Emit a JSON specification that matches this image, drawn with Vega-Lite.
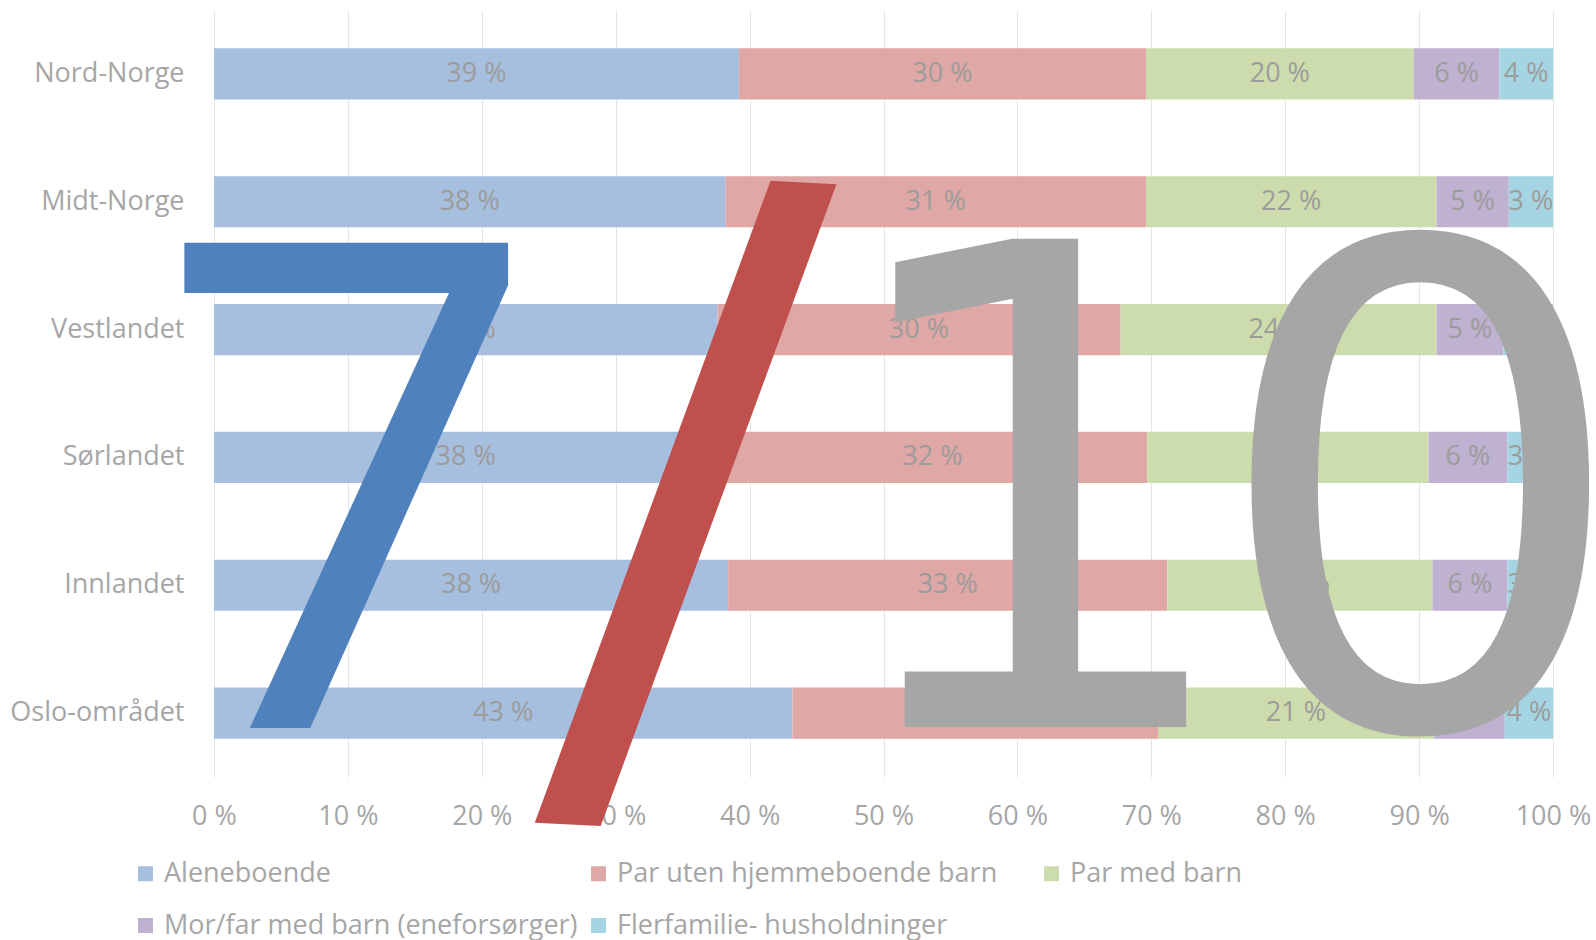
{
  "$schema": "https://vega.github.io/schema/vega-lite/v6.json",
  "width": 1339,
  "height": 767,
  "autosize": {"type": "none"},
  "padding": {"left": 214, "top": 10, "right": 43, "bottom": 163},
  "background": "white",
  "config": {"view": {"stroke": null}, "font": "Open Sans"},
  "layer": [
    {
      "data": {"values": [
        {"region": "Nord-Norge", "type": "Aleneboende", "i": 1, "share": 39.2},
        {"region": "Nord-Norge", "type": "Par uten hjemmeboende barn", "i": 2, "share": 30.4},
        {"region": "Nord-Norge", "type": "Par med barn", "i": 3, "share": 20.0},
        {"region": "Nord-Norge", "type": "Mor/far med barn (eneforsørger)", "i": 4, "share": 6.4},
        {"region": "Nord-Norge", "type": "Flerfamilie- husholdninger", "i": 5, "share": 4.0},
        {"region": "Midt-Norge", "type": "Aleneboende", "i": 1, "share": 38.2},
        {"region": "Midt-Norge", "type": "Par uten hjemmeboende barn", "i": 2, "share": 31.4},
        {"region": "Midt-Norge", "type": "Par med barn", "i": 3, "share": 21.7},
        {"region": "Midt-Norge", "type": "Mor/far med barn (eneforsørger)", "i": 4, "share": 5.4},
        {"region": "Midt-Norge", "type": "Flerfamilie- husholdninger", "i": 5, "share": 3.3},
        {"region": "Vestlandet", "type": "Aleneboende", "i": 1, "share": 37.6},
        {"region": "Vestlandet", "type": "Par uten hjemmeboende barn", "i": 2, "share": 30.1},
        {"region": "Vestlandet", "type": "Par med barn", "i": 3, "share": 23.6},
        {"region": "Vestlandet", "type": "Mor/far med barn (eneforsørger)", "i": 4, "share": 5.0},
        {"region": "Vestlandet", "type": "Flerfamilie- husholdninger", "i": 5, "share": 3.7},
        {"region": "Sørlandet", "type": "Aleneboende", "i": 1, "share": 37.6},
        {"region": "Sørlandet", "type": "Par uten hjemmeboende barn", "i": 2, "share": 32.1},
        {"region": "Sørlandet", "type": "Par med barn", "i": 3, "share": 21.0},
        {"region": "Sørlandet", "type": "Mor/far med barn (eneforsørger)", "i": 4, "share": 5.9},
        {"region": "Sørlandet", "type": "Flerfamilie- husholdninger", "i": 5, "share": 3.4},
        {"region": "Innlandet", "type": "Aleneboende", "i": 1, "share": 38.4},
        {"region": "Innlandet", "type": "Par uten hjemmeboende barn", "i": 2, "share": 32.8},
        {"region": "Innlandet", "type": "Par med barn", "i": 3, "share": 19.8},
        {"region": "Innlandet", "type": "Mor/far med barn (eneforsørger)", "i": 4, "share": 5.6},
        {"region": "Innlandet", "type": "Flerfamilie- husholdninger", "i": 5, "share": 3.4},
        {"region": "Oslo-området", "type": "Aleneboende", "i": 1, "share": 43.2},
        {"region": "Oslo-området", "type": "Par uten hjemmeboende barn", "i": 2, "share": 27.3},
        {"region": "Oslo-området", "type": "Par med barn", "i": 3, "share": 20.6},
        {"region": "Oslo-området", "type": "Mor/far med barn (eneforsørger)", "i": 4, "share": 5.3},
        {"region": "Oslo-området", "type": "Flerfamilie- husholdninger", "i": 5, "share": 3.6}
      ]},
      "transform": [
        {"stack": "share", "groupby": ["region"], "sort": [{"field": "i", "order": "ascending"}], "as": ["s0", "s1"]},
        {"calculate": "(datum.s0 + datum.s1) / 2", "as": "mid"},
        {"calculate": "format(datum.share, '.0f') + ' %'", "as": "label"}
      ],
      "encoding": {
        "y": {
          "field": "region", "type": "nominal",
          "sort": ["Nord-Norge", "Midt-Norge", "Vestlandet", "Sørlandet", "Innlandet", "Oslo-området"],
          "scale": {"paddingInner": 0.6, "paddingOuter": 0.3},
          "axis": {"title": null, "ticks": false, "domain": false, "labelFontSize": 27, "labelColor": "#a6a6a6", "labelFont": "Open Sans", "labelPadding": 30, "labelLimit": 300}
        }
      },
      "layer": [
        {
          "mark": {"type": "bar", "opacity": 1},
          "encoding": {
            "x": {
              "field": "s0", "type": "quantitative",
              "scale": {"domain": [0, 100], "nice": false},
              "axis": {"title": null, "values": [0, 10, 20, 30, 40, 50, 60, 70, 80, 90, 100], "grid": true, "gridColor": "#e6e6e6", "domain": false, "ticks": false, "labelExpr": "datum.value + ' %'", "labelFontSize": 27, "labelColor": "#a6a6a6", "labelFont": "Open Sans", "labelPadding": 26, "labelFlush": false, "labelOverlap": false}
            },
            "x2": {"field": "s1"},
            "color": {
              "field": "type", "type": "nominal",
              "scale": {
                "domain": ["Aleneboende", "Par uten hjemmeboende barn", "Par med barn", "Mor/far med barn (eneforsørger)", "Flerfamilie- husholdninger"],
                "range": ["#a7bfde", "#dfa7a6", "#cddcac", "#bfb1d0", "#a5d5e2"]
              },
              "legend": {
                "orient": "none", "legendX": -82, "legendY": 850, "direction": "horizontal", "columns": 3,
                "title": null, "symbolType": "square", "symbolSize": 225, "symbolStrokeWidth": 0, "symbolOpacity": 1,
                "labelFontSize": 27, "labelColor": "#a6a6a6", "labelFont": "Open Sans", "labelLimit": 600,
                "labelOffset": 5, "columnPadding": 7, "rowPadding": 24, "gridAlign": "all"
              }
            }
          }
        },
        {
          "mark": {"type": "text", "fontSize": 27, "font": "Open Sans", "color": "#9c9c9c", "align": "center", "baseline": "middle"},
          "encoding": {
            "x": {"field": "mid", "type": "quantitative"},
            "text": {"field": "label"}
          }
        }
      ]
    },
    {
      "data": {"values": [{}]},
      "mark": {"type": "text", "font": "Open Sans", "fontSize": 680, "fontWeight": 500, "color": "#4f81bd", "align": "center", "baseline": "alphabetic", "dy": 15},
      "encoding": {
        "x": {"datum": 10.0, "type": "quantitative"},
        "y": {"datum": "Oslo-området", "type": "nominal"},
        "text": {"value": "7"}
      }
    },
    {
      "data": {"values": [{}]},
      "mark": {"type": "text", "font": "DejaVu Sans", "fontSize": 795, "angle": 3, "color": "#c0504d", "align": "center", "baseline": "alphabetic", "dy": 43},
      "encoding": {
        "x": {"datum": 34.4, "type": "quantitative"},
        "y": {"datum": "Oslo-området", "type": "nominal"},
        "text": {"value": "/"}
      }
    },
    {
      "data": {"values": [{}]},
      "mark": {"type": "text", "font": "DejaVu Sans", "fontSize": 670, "color": "#a6a6a6", "align": "center", "baseline": "alphabetic", "dy": 14},
      "encoding": {
        "x": {"datum": 61.3, "type": "quantitative"},
        "y": {"datum": "Oslo-området", "type": "nominal"},
        "text": {"value": "1"}
      }
    },
    {
      "data": {"values": [{}]},
      "mark": {"type": "text", "font": "DejaVu Sans", "fontSize": 670, "color": "#a6a6a6", "align": "center", "baseline": "alphabetic", "dy": 14},
      "encoding": {
        "x": {"datum": 90.1, "type": "quantitative"},
        "y": {"datum": "Oslo-området", "type": "nominal"},
        "text": {"value": "0"}
      }
    }
  ]
}
